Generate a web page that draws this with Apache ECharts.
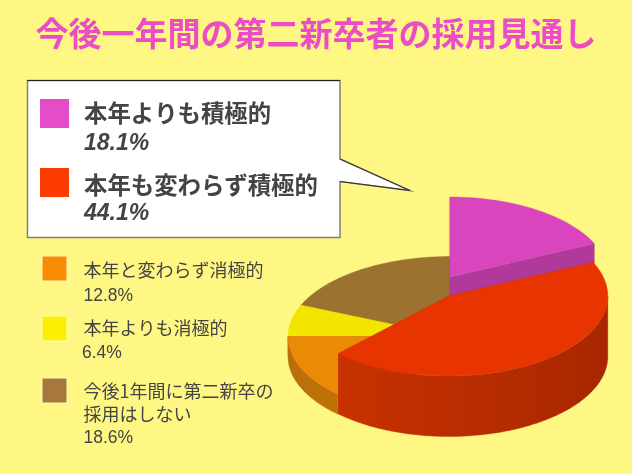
<!DOCTYPE html>
<html><head><meta charset="utf-8">
<style>html,body{margin:0;padding:0;background:#fff784}#c{width:632px;height:474px}</style>
<script src="https://cdn.jsdelivr.net/npm/echarts@6/dist/echarts.min.js"></script>
</head><body><div id="c"></div>
<script>
const titleText = '今後一年間の第二新卒者の採用見通し';
const categories = ['本年よりも積極的','本年も変わらず積極的','本年と変わらず消極的','本年よりも消極的','今後1年間に第二新卒の\n採用はしない'];
const values = [18.1,44.1,12.8,6.4,18.6];

const topColors = ['#d945bd','#e83400','#ea8a05','#f2e600','#9b7230'];
const sideColors = [['#b03a9a','#b03a9a'],['#c83200','#a82700'],['#b86e08','#c07208'],['#c0b400','#c0b400'],['#7a5a26','#7a5a26']];
const swatchColors = ['#e54cc8','#fc3c00','#f98c05','#fbf000','#a6783a'];
const PIE = {cx:[450,448.8,450,450,450], rx:[159,159,162,162,162], ry:80, baseY:356.5, topY:[277,296,336.5,336.5,336.5]};
const drawOrder = [4,3,2,0,1];

const total = values.reduce((a,b)=>a+b,0);
const starts = []; let acc = 0;
values.forEach(v=>{starts.push(acc/total*Math.PI*2); acc+=v;});

function renderItem(params,api){
  const i = drawOrder[params.dataIndex];
  const cx = PIE.cx[i], rx = PIE.rx[i];
  const pt = (a,y)=>[cx+rx*Math.sin(a), y-PIE.ry*Math.cos(a)];
  const arc = (a0,a1,y)=>{const n=Math.max(2,Math.ceil((a1-a0)/0.02)),r=[];for(let k=0;k<=n;k++)r.push(pt(a0+(a1-a0)*k/n,y));return r;};
  const a0 = starts[i], a1 = a0 + api.value(0)/total*Math.PI*2;
  const top = PIE.topY[i], base = PIE.baseY;
  const side = new echarts.graphic.LinearGradient(0,0,1,0,[{offset:0,color:sideColors[i][0]},{offset:1,color:sideColors[i][1]}]);
  const children = [];
  const poly = (points,fill)=>children.push({type:'polygon',shape:{points},style:{fill,stroke:fill,lineWidth:0.4}});
  [a0,a1].forEach(a=>{
    poly([[cx,top],pt(a,top),pt(a,base),[cx,base]],sideColors[i][0]);
  });
  const f0=Math.max(a0,Math.PI/2), f1=Math.min(a1,Math.PI*1.5);
  if(f1>f0){
    poly(arc(f0,f1,top).concat(arc(f0,f1,base).reverse()),side);
  }
  poly([[cx,top]].concat(arc(a0,a1,top)),topColors[i]);
  return {type:'group',children};
}

const TEXT = '#444444';
const FONT = '"Noto Sans CJK JP","Liberation Sans",sans-serif';
const NUMFONT = '"Liberation Sans","Noto Sans CJK JP",sans-serif';
const g = [];
g.push({type:'polygon',z:1,shape:{points:[[27.5,80.5],[340,80.5],[340,159],[410,190.5],[340,181.5],[340,237.5],[27.5,237.5]]},style:{fill:'#fff',stroke:'#857f74',lineWidth:1.5}});
g.push({type:'polyline',z:2,shape:{points:[[27,80.5],[340,80.5]]},style:{stroke:'#222',lineWidth:1.2,fill:null}});
g.push({type:'polyline',z:2,shape:{points:[[340,159],[410,190.5],[340,181.5]]},style:{stroke:'#333',lineWidth:1,fill:null}});
function text(x,y,t,size,weight,style,font){
  g.push({type:'text',z:3,x,y,style:{text:t,fill:TEXT,font:(style||'normal')+' '+(weight||'normal')+' '+size+'px '+font,verticalAlign:'middle',align:'left'}});
}
function swatch(x,y,s,c,bordered){
  g.push({type:'rect',z:3,shape:{x,y,width:s,height:s},style:{fill:c,stroke:bordered?'#fff9c0':null,lineWidth:bordered?1:0}});
}
// callout legend
[[99,113,143.5],[168,185,213.5]].forEach((r,i)=>{
  swatch(40,r[0],29,swatchColors[i],false);
  text(84,r[1],categories[i],23.4,'bold','normal',FONT);
  text(84,r[2],values[i].toFixed(1)+'%',23,'bold','italic',NUMFONT);
});
// plain legend
[[256,270,296,83.5],[316,328,353,82],[378,391,438,83.5]].forEach((r,k)=>{
  const i=k+2;
  swatch(42,r[0],25,swatchColors[i],true);
  const lines=categories[i].split('\n');
  lines.forEach((l,n)=>text(83.5,r[1]+n*23,l,18,'normal','normal',FONT));
  text(r[3],r[2],values[i].toFixed(1)+'%',17.5,'normal','normal',NUMFONT);
});

const chart = echarts.init(document.getElementById('c'),null,{renderer:'canvas',width:632,height:474});
chart.setOption({
  backgroundColor:'#fff784',
  animation:false,
  title:{text:titleText,left:'center',top:12,textStyle:{color:'#ea4dc6',fontSize:33,fontWeight:'bold',fontFamily:FONT}},
  series:[{type:'custom',coordinateSystem:'none',renderItem,silent:true,z:5,
    data:drawOrder.map(i=>[values[i]])}],
  graphic:{elements:g}
});
</script></body></html>
